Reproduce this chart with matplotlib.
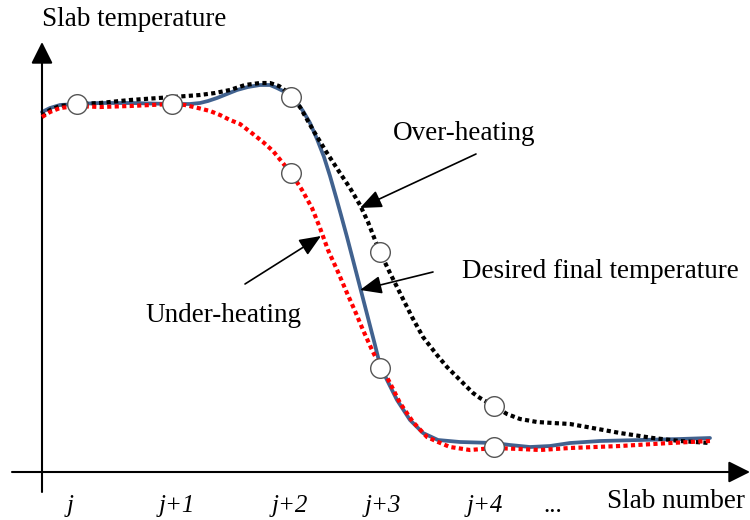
import matplotlib
matplotlib.use("Agg")
import matplotlib.pyplot as plt

plt.rcParams['font.family'] = ['Liberation Serif', 'DejaVu Serif']

# x: horizontal position (px from left), y: vertical position (px from top)
desired_x = [42, 50, 60, 77, 100, 130, 172, 190, 200, 208, 217, 227, 237, 248, 260, 270, 277, 285, 291, 298, 303, 310, 317, 324, 330, 336, 341, 347, 353, 360, 367, 375, 380, 387, 397, 410, 423, 438, 460, 494, 510, 530, 550, 570, 600, 640, 680, 710]
desired_y = [112, 108, 105, 104, 103, 103, 104, 104, 103, 101, 98, 94, 90, 87, 85, 85, 88, 92, 97, 104, 111, 123, 139, 157, 176, 197, 215, 237, 260, 287, 314, 345, 365, 380, 400, 420, 433, 440, 442, 443, 445, 447, 446, 443, 441, 440, 439, 438]

under_x = [42, 50, 60, 77, 100, 130, 172, 185, 198, 210, 220, 230, 240, 253, 263, 273, 282, 291, 302, 312, 320, 328, 338, 347, 355, 363, 372, 377, 383, 390, 400, 413, 427, 438, 450, 470, 494, 520, 540, 570, 620, 670, 710]
under_y = [117, 112, 108, 106, 107, 106, 104, 105, 108, 111, 115, 120, 124, 134, 142, 151, 162, 173, 190, 208, 228, 250, 272, 293, 311, 330, 350, 360, 370, 383, 403, 422, 437, 442, 447, 450, 448, 449, 450, 448, 446, 443, 441]

over_x = [42, 50, 60, 77, 100, 130, 173, 200, 215, 230, 245, 260, 270, 279, 286, 291, 300, 313, 327, 340, 350, 360, 368, 375, 380, 390, 400, 412, 423, 437, 447, 460, 473, 480, 487, 494, 507, 520, 537, 553, 570, 587, 620, 653, 680, 710]
over_y = [116, 110, 106, 104, 103, 100, 97, 95, 93, 90, 85, 83, 83, 86, 91, 97, 107, 130, 153, 173, 188, 205, 222, 240, 252, 273, 293, 317, 337, 355, 367, 380, 393, 398, 402, 406, 414, 419, 422, 423, 424, 427, 433, 438, 441, 443]

marker_x = [77, 172, 291, 291, 380, 380, 494, 494]
marker_y = [104, 104, 97, 173, 252, 368, 406, 447]

tick_x = [70, 177, 290, 383, 485, 553]
tick_labels = ['j', 'j+1', 'j+2', 'j+3', 'j+4', '...']

W, H = 750, 520
fig = plt.figure(figsize=(W / 100, H / 100), dpi=100)
ax = fig.add_axes([0, 0, 1, 1])
ax.set_xlim(0, W)
ax.set_ylim(H, 0)
ax.axis('off')

# axes with arrows
axis_kw = dict(arrowstyle='-|>,head_length=0.6,head_width=0.3', lw=1.5,
               color='black', mutation_scale=22, shrinkA=0, shrinkB=0)
ax.annotate('', xy=(42, 42), xytext=(42, 492), arrowprops=axis_kw)
ax.annotate('', xy=(750, 472), xytext=(12, 472), arrowprops=axis_kw)

ax.plot(desired_x, desired_y, color='#41628f', lw=2.7, zorder=2,
        solid_capstyle='round', solid_joinstyle='round')
ax.plot(over_x, over_y, color='black', lw=3.0, linestyle=(0, (1, 0.8)), zorder=3)
ax.plot(under_x, under_y, color='#ff0000', lw=3.0, linestyle=(0, (1, 0.8)), zorder=3)

ax.scatter(marker_x, marker_y, s=200, facecolor='white', edgecolor='#555555',
           linewidth=1.0, zorder=5)

fs = 19.5
ax.text(42, 19, 'Slab temperature', fontsize=fs, ha='left', va='center')
ax.text(745, 502, 'Slab number', fontsize=fs, ha='right', va='center')
ax.text(393, 133, 'Over-heating', fontsize=fs, ha='left', va='center')
ax.text(462, 272, 'Desired final temperature', fontsize=fs, ha='left', va='center')
ax.text(145, 316, 'Under-heating', fontsize=fs, ha='left', va='center')

for tx, tl in zip(tick_x, tick_labels):
    ax.text(tx, 506, tl, fontsize=18, ha='center', va='center',
            style='italic' if tl.startswith('j') else 'normal')

arrow_kw = dict(arrowstyle='-|>,head_length=0.6,head_width=0.25', lw=1.2,
                color='black', mutation_scale=22, shrinkA=0, shrinkB=0)
ax.annotate('', xy=(360, 208), xytext=(476, 154), arrowprops=arrow_kw)
ax.annotate('', xy=(360, 290), xytext=(433, 272), arrowprops=arrow_kw)
ax.annotate('', xy=(321, 236), xytext=(245, 284), arrowprops=arrow_kw)

fig.savefig('out.png', dpi=100)
